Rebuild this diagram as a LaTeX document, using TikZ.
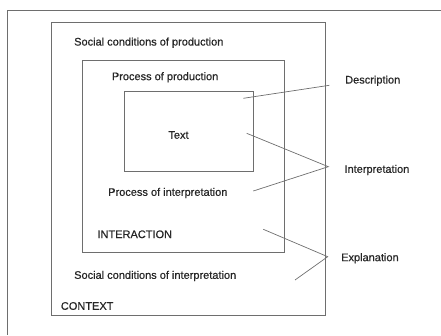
\documentclass[tikz,border=0pt]{standalone}
\usepackage{fontspec}
\setmainfont{Liberation Sans}
\newfontfamily\lblfont{Liberation Sans}[FakeBold=0.6]
\begin{document}
\begin{tikzpicture}[x=1pt,y=-1pt,
  box/.style={draw=linegray,line width=1pt,inner sep=0pt,outer sep=0pt},
  lbl/.style={anchor=west,inner sep=0pt,text=black!85,font=\lblfont\fontsize{11}{13}\selectfont},
  conn/.style={draw=linegray,line width=0.7pt}]
\definecolor{linegray}{HTML}{6E6E6E}
\useasboundingbox (0,0) rectangle (441,335);
% frame lines
\coordinate (ftl) at (7.3,10);
\coordinate (ftr) at (441,10);
\coordinate (fbl) at (7.3,335);
\draw[linegray,line width=0.9pt] (ftr) -- (ftl) -- (fbl);
% boxes
\node[box,minimum width=274pt,minimum height=292.3pt] (outer) at (188.7,168.85) {};
\node[box,minimum width=202pt,minimum height=191.6pt] (middle) at (183.3,156.5) {};
\node[box,minimum width=129pt,minimum height=79.3pt] (inner) at (188.8,131.35) {};
% labels
\node[lbl] (scp) at (74,42.7) {Social conditions of production};
\node[lbl] (pop) at (111.7,77.3) {Process of production};
\node[lbl,anchor=center] (txt) at (178.5,135) {Text};
\node[lbl] (poi) at (108,193) {Process of interpretation};
\node[lbl] (inter) at (97.3,234.3) {INTERACTION};
\node[lbl] (sci) at (74,276) {Social conditions of interpretation};
\node[lbl] (ctx) at (60.7,306) {CONTEXT};
\node[lbl] (desc) at (345,80.7) {Description};
\node[lbl] (interp) at (344.3,170) {Interpretation};
\node[lbl] (expl) at (341,258.3) {Explanation};
% connector ends
\coordinate (dA) at (243.3,98.3);
\coordinate (dH) at (329.3,85.3);
\coordinate (iA) at (246.7,133.3);
\coordinate (iB) at (253.3,191);
\coordinate (iH) at (328.3,166.7);
\coordinate (eA) at (263.3,229.3);
\coordinate (eB) at (295,280);
\coordinate (eH) at (327.7,256.7);
\draw[conn] (dA) -- (dH);
\draw[conn] (iA) -- (iH) -- (iB);
\draw[conn] (eA) -- (eH) -- (eB);
\end{tikzpicture}
\end{document}
